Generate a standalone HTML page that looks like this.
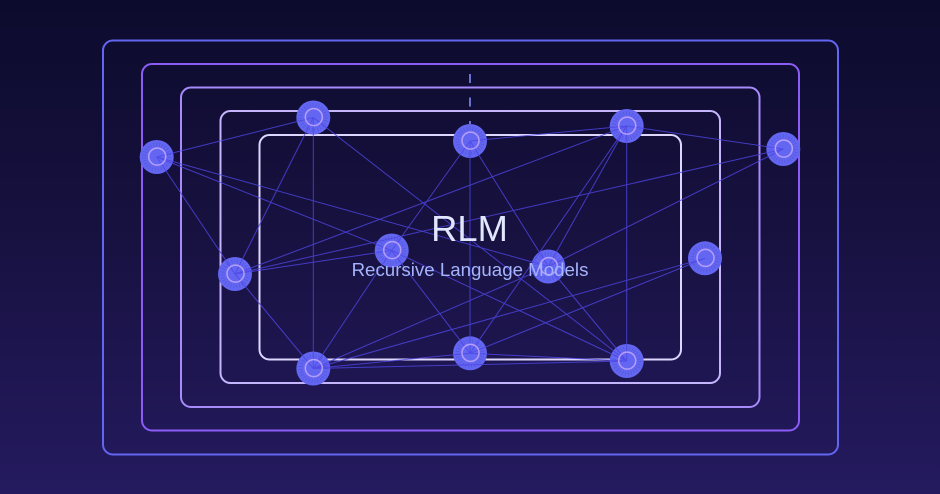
<!DOCTYPE html>
<html>
<head>
<meta charset="utf-8">
<style>
  html,body{margin:0;padding:0;}
  body{width:940px;height:494px;overflow:hidden;background:linear-gradient(180deg,#0c0b2d 0%,#17113f 45%,#241a5f 100%);}
  svg{display:block;}
</style>
</head>
<body>
<svg width="940" height="494" viewBox="0 0 940 494" xmlns="http://www.w3.org/2000/svg">
  <!-- nested frames -->
  <g fill="none" stroke-width="2">
    <rect x="103" y="40.5" width="735" height="414" rx="10" stroke="#6366f1"/>
    <rect x="142" y="64" width="657" height="366.5" rx="10" stroke="#8b5cf6"/>
    <rect x="181" y="87.5" width="578.5" height="319.5" rx="10" stroke="#a78bfa"/>
    <rect x="220.5" y="111" width="499.5" height="272" rx="10" stroke="#c4b5fd"/>
    <rect x="259.5" y="135" width="421.5" height="224.5" rx="10" stroke="#ddd6fe"/>
  </g>

  <!-- dashed connector above top node -->
  <line x1="470" y1="74" x2="470" y2="124" stroke="#818cf8" stroke-width="1.6" stroke-dasharray="9 14.5"/>

  <!-- node bases -->
  <g id="bases">
    <g fill="#6366f1">
      <circle cx="156.7" cy="157" r="17"/>
      <circle cx="313.3" cy="117.5" r="17"/>
      <circle cx="470" cy="141" r="17"/>
      <circle cx="626.7" cy="126" r="17"/>
      <circle cx="783.3" cy="149" r="17"/>
      <circle cx="235" cy="274" r="17"/>
      <circle cx="391.7" cy="250.5" r="17"/>
      <circle cx="548.3" cy="266.5" r="17"/>
      <circle cx="705" cy="258.3" r="17"/>
      <circle cx="313.3" cy="368.5" r="17"/>
      <circle cx="470" cy="353.3" r="17"/>
      <circle cx="626.7" cy="361" r="17"/>
    </g>
    <g fill="none" stroke="#3a3ab8" stroke-width="4" stroke-dasharray="0.9 2" opacity="0.3">
      <circle cx="156.7" cy="157" r="12.5"/>
      <circle cx="313.3" cy="117.5" r="12.5"/>
      <circle cx="470" cy="141" r="12.5"/>
      <circle cx="626.7" cy="126" r="12.5"/>
      <circle cx="783.3" cy="149" r="12.5"/>
      <circle cx="235" cy="274" r="12.5"/>
      <circle cx="391.7" cy="250.5" r="12.5"/>
      <circle cx="548.3" cy="266.5" r="12.5"/>
      <circle cx="705" cy="258.3" r="12.5"/>
      <circle cx="313.3" cy="368.5" r="12.5"/>
      <circle cx="470" cy="353.3" r="12.5"/>
      <circle cx="626.7" cy="361" r="12.5"/>
    </g>
  </g>

  <!-- edges -->
  <g stroke="#4f46e5" stroke-width="1" opacity="0.8" fill="none">
    <line x1="156.7" y1="157" x2="313.3" y2="117.5"/>
    <line x1="156.7" y1="157" x2="235" y2="274"/>
    <line x1="156.7" y1="157" x2="391.7" y2="250.5"/>
    <line x1="156.7" y1="157" x2="548.3" y2="266.5"/>
    <line x1="313.3" y1="117.5" x2="235" y2="274"/>
    <line x1="313.3" y1="117.5" x2="313.3" y2="368.5"/>
    <line x1="313.3" y1="117.5" x2="626.7" y2="361"/>
    <line x1="470" y1="141" x2="626.7" y2="126"/>
    <line x1="470" y1="141" x2="470" y2="353.3"/>
    <line x1="470" y1="141" x2="391.7" y2="250.5"/>
    <line x1="470" y1="141" x2="548.3" y2="266.5"/>
    <line x1="626.7" y1="126" x2="783.3" y2="149"/>
    <line x1="626.7" y1="126" x2="235" y2="274"/>
    <line x1="626.7" y1="126" x2="548.3" y2="266.5"/>
    <line x1="626.7" y1="126" x2="470" y2="353.3"/>
    <line x1="626.7" y1="126" x2="626.7" y2="361"/>
    <line x1="783.3" y1="149" x2="235" y2="274"/>
    <line x1="783.3" y1="149" x2="548.3" y2="266.5"/>
    <line x1="235" y1="274" x2="391.7" y2="250.5"/>
    <line x1="235" y1="274" x2="313.3" y2="368.5"/>
    <line x1="391.7" y1="250.5" x2="313.3" y2="368.5"/>
    <line x1="391.7" y1="250.5" x2="470" y2="353.3"/>
    <line x1="391.7" y1="250.5" x2="626.7" y2="361"/>
    <line x1="548.3" y1="266.5" x2="313.3" y2="368.5"/>
    <line x1="548.3" y1="266.5" x2="626.7" y2="361"/>
    <line x1="705" y1="258.3" x2="313.3" y2="368.5"/>
    <line x1="705" y1="258.3" x2="470" y2="353.3"/>
    <line x1="313.3" y1="368.5" x2="470" y2="353.3"/>
    <line x1="313.3" y1="368.5" x2="626.7" y2="361"/>
    <line x1="470" y1="353.3" x2="626.7" y2="361"/>
  </g>

  <!-- inner rings -->
  <g fill="none" stroke="#c4a8fb" stroke-width="1.5" opacity="0.85">
    <circle cx="157.2" cy="156.6" r="8.5"/>
    <circle cx="313.8" cy="117.1" r="8.5"/>
    <circle cx="470.5" cy="140.6" r="8.5"/>
    <circle cx="627.2" cy="125.6" r="8.5"/>
    <circle cx="783.8" cy="148.6" r="8.5"/>
    <circle cx="235.5" cy="273.6" r="8.5"/>
    <circle cx="392.2" cy="250.1" r="8.5"/>
    <circle cx="548.8" cy="266.1" r="8.5"/>
    <circle cx="705.5" cy="257.9" r="8.5"/>
    <circle cx="313.8" cy="368.1" r="8.5"/>
    <circle cx="470.5" cy="352.9" r="8.5"/>
    <circle cx="627.2" cy="360.6" r="8.5"/>
  </g>

  <!-- title -->
  <text x="469.5" y="241" text-anchor="middle" font-family="'Liberation Sans', Arial, sans-serif" font-size="36.3" fill="#e0e7ff">RLM</text>
  <text x="470" y="276" text-anchor="middle" font-family="'Liberation Sans', Arial, sans-serif" font-size="18.7" fill="#a5b4fc">Recursive Language Models</text>
</svg>
</body>
</html>
